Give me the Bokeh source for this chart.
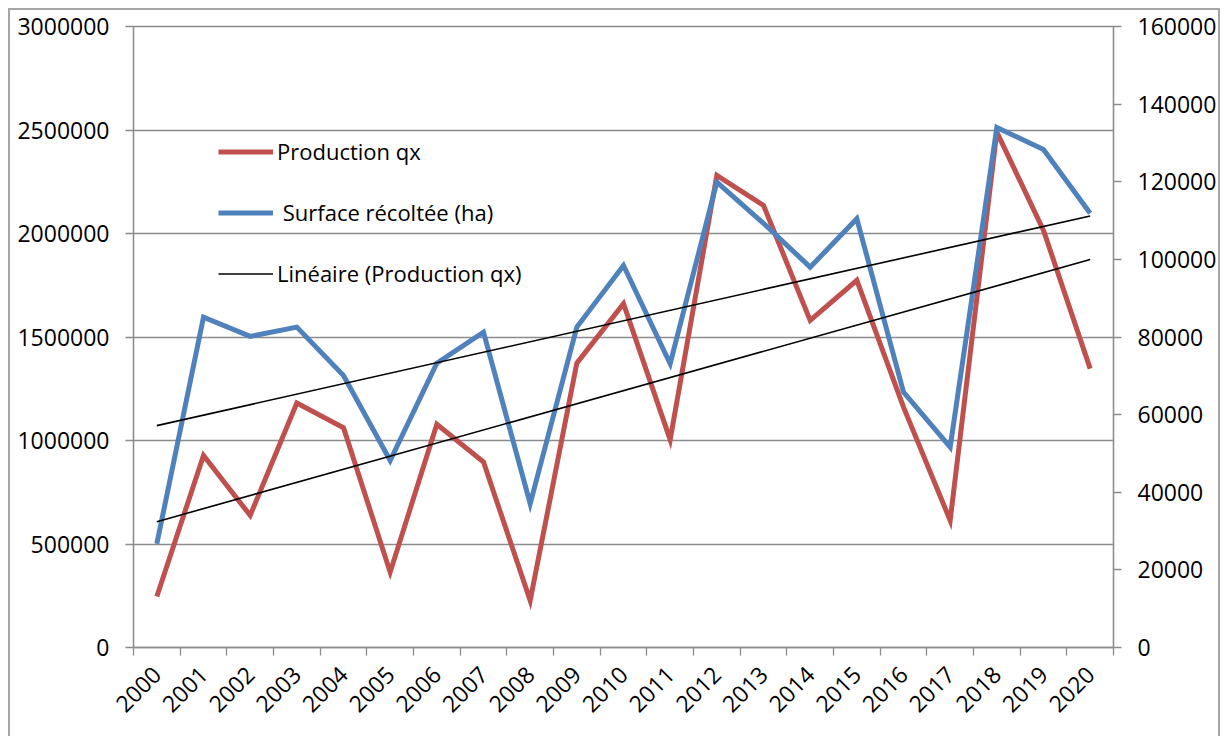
import math
import numpy as np
from bokeh.plotting import figure
from bokeh.models import (Range1d, LinearAxis, FixedTicker, BasicTickFormatter,
                          Legend, LegendItem, ColumnDataSource)
from bokeh.embed import file_html
from bokeh.resources import INLINE

years = ["2000", "2001", "2002", "2003", "2004", "2005", "2006", "2007", "2008", "2009",
         "2010", "2011", "2012", "2013", "2014", "2015", "2016", "2017", "2018", "2019", "2020"]
production = [246000, 928000, 638000, 1181000, 1062000, 364000, 1078000, 896000, 227000,
              1374000, 1661000, 1004000, 2281000, 2136000, 1580000, 1774000, 1161000,
              614000, 2490000, 2015000, 1347000]
surface = [26700, 85100, 80150, 82550, 70100, 48190, 73270, 81250, 37030, 82550, 98440,
           73110, 119900, 109300, 98000, 110470, 65800, 51600, 134000, 128300, 111900]
left_ticks = [0, 500000, 1000000, 1500000, 2000000, 2500000, 3000000]
right_ticks = [0, 20000, 40000, 60000, 80000, 100000, 120000, 140000, 160000]

RED = "#C0504D"
BLUE = "#4F81BD"
GRID = "#8c8c8c"
FONT = "Open Sans"

x = list(range(len(years)))
src = ColumnDataSource(dict(x=x, prod=production, surf=surface))

# linear trend lines computed from the data
cp = np.polyfit(x, production, 1)
cs = np.polyfit(x, surface, 1)
tx = [x[0], x[-1]]
trend_src = ColumnDataSource(dict(x=tx, prod=[cp[0] * v + cp[1] for v in tx],
                                  surf=[cs[0] * v + cs[1] for v in tx]))

p = figure(width=1212, height=730, output_backend="svg", toolbar_location=None,
           x_range=Range1d(-0.5, len(years) - 0.5),
           y_range=Range1d(left_ticks[0], left_ticks[-1]),
           min_border_left=123, min_border_right=109, min_border_top=16,
           min_border_bottom=93)
p.styles = {"border": "2px solid #a6a6a6", "margin": "8px 0 0 8px"}
p.outline_line_color = GRID
p.outline_line_width = 1.3
p.extra_y_ranges = {"right": Range1d(right_ticks[0], right_ticks[-1])}

# x axis
p.xaxis.ticker = FixedTicker(ticks=x, minor_ticks=[v - 0.5 for v in x] + [x[-1] + 0.5])
p.xaxis.major_label_overrides = {i: y for i, y in enumerate(years)}
p.xaxis.major_label_orientation = math.pi / 4
p.xaxis.major_tick_in = 0
p.xaxis.major_tick_out = 0
p.xaxis.minor_tick_in = 0
p.xaxis.minor_tick_out = 8
p.xaxis.major_label_standoff = 15
p.xgrid.visible = False

# left axis
p.yaxis.ticker = FixedTicker(ticks=left_ticks)
p.yaxis.formatter = BasicTickFormatter(use_scientific=False)
p.yaxis.major_tick_in = 0
p.yaxis.major_tick_out = 8
p.yaxis.minor_tick_out = 0
p.yaxis.minor_tick_in = 0
p.yaxis.major_label_standoff = 16
p.ygrid.grid_line_color = GRID
p.ygrid.grid_line_width = 1.3
p.ygrid.ticker = FixedTicker(ticks=left_ticks)

# right axis
ra = LinearAxis(y_range_name="right", ticker=FixedTicker(ticks=right_ticks),
                formatter=BasicTickFormatter(use_scientific=False))
ra.major_tick_in = 0
ra.major_tick_out = 8
ra.minor_tick_in = 0
ra.minor_tick_out = 0
ra.major_label_standoff = 16
p.add_layout(ra, "right")

for ax in [p.xaxis[0], p.yaxis[0], ra]:
    ax.axis_line_color = GRID
    ax.axis_line_width = 1.3
    ax.major_tick_line_color = GRID
    ax.major_tick_line_width = 1.3
    ax.minor_tick_line_color = GRID
    ax.minor_tick_line_width = 1.3
    ax.major_label_text_font = FONT
    ax.major_label_text_font_size = "23px"
    ax.major_label_text_color = "black"

r_prod = p.line("x", "prod", source=src, line_color=RED, line_width=5, line_join="miter")
r_surf = p.line("x", "surf", source=src, y_range_name="right", line_color=BLUE,
                line_width=5, line_join="miter")
r_tp = p.line("x", "prod", source=trend_src, line_color="black", line_width=1.6)
r_ts = p.line("x", "surf", source=trend_src, y_range_name="right", line_color="black",
              line_width=1.6)

legend = Legend(items=[LegendItem(label="Production qx", renderers=[r_prod]),
                       LegendItem(label=" Surface récoltée (ha)", renderers=[r_surf]),
                       LegendItem(label="Linéaire (Production qx)", renderers=[r_tp])],
                location=(85, 359))
legend.background_fill_alpha = 0
legend.border_line_alpha = 0
legend.margin = 0
legend.padding = 0
legend.spacing = 31
legend.glyph_width = 55
legend.glyph_height = 21
legend.label_height = 21
legend.label_standoff = 4
legend.label_text_font = FONT
legend.label_text_font_size = "22px"
legend.label_text_color = "black"
p.add_layout(legend)

open("out.html", "w").write(file_html(p, INLINE))
